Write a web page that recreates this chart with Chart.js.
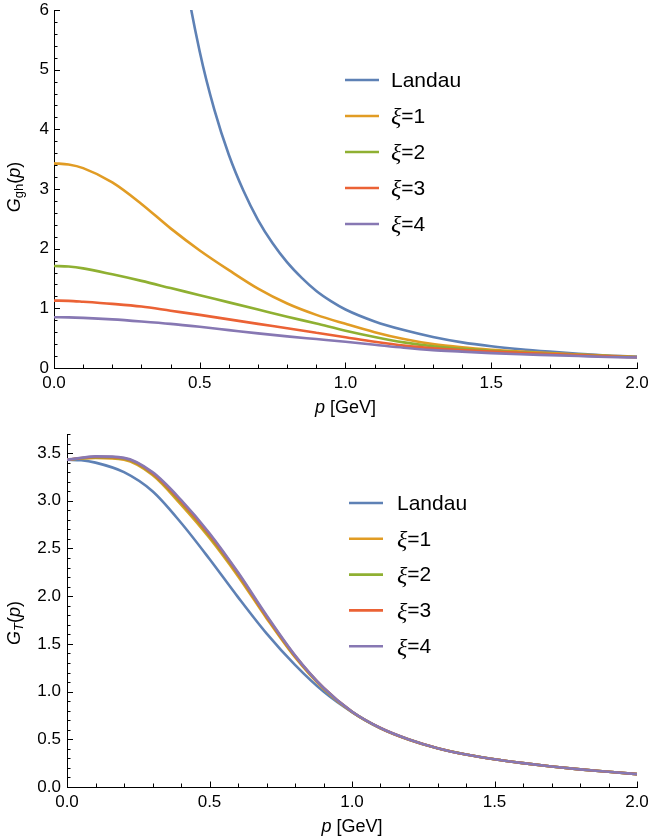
<!DOCTYPE html>
<html>
<head>
<meta charset="utf-8">
<script src="https://cdn.jsdelivr.net/npm/chart.js@4"></script>
<style>
  html, body { margin: 0; padding: 0; background: #fff; }
  canvas { display: block; }
</style>
</head>
<body>
<canvas id="ghChart" width="648" height="420"></canvas>
<canvas id="tChart" width="648" height="417"></canvas>
<script>
// series names + Mathematica default colours
const seriesLabels = ['Landau', 'ξ=1', 'ξ=2', 'ξ=3', 'ξ=4'];
const seriesColors = ['#5e81b5', '#e19c24', '#8fb032', '#eb6235', '#8778b3'];

// momentum grid (GeV)
const pGrid = [0, 0.05, 0.1, 0.2, 0.3, 0.4, 0.5, 0.6, 0.7, 0.8, 0.9, 1.0,
               1.1, 1.2, 1.3, 1.4, 1.5, 1.6, 1.7, 1.8, 1.9, 2.0];

// ghost propagator G_gh(p) -- Landau diverges at p -> 0, only plotted from 0.44
const pLandauGh = [0.44, 0.45, 0.5, 0.55, 0.6, 0.65, 0.7, 0.75, 0.8, 0.85, 0.9, 0.95, 1.0,
                   1.1, 1.2, 1.3, 1.4, 1.5, 1.6, 1.7, 1.8, 1.9, 2.0];
const ghLandau = [7.0, 6.6, 5.3, 4.33, 3.57, 2.97, 2.48, 2.09, 1.77, 1.51, 1.29, 1.12, 0.98,
                  0.78, 0.635, 0.52, 0.43, 0.365, 0.315, 0.275, 0.24, 0.21, 0.19];
const ghXi1 = [3.43, 3.41, 3.35, 3.11, 2.75, 2.34, 1.97, 1.64, 1.33, 1.08, 0.89, 0.74,
               0.60, 0.485, 0.40, 0.345, 0.305, 0.275, 0.25, 0.225, 0.205, 0.185];
const ghXi2 = [1.71, 1.70, 1.67, 1.57, 1.46, 1.34, 1.22, 1.10, 0.98, 0.86, 0.745, 0.625,
               0.52, 0.43, 0.365, 0.32, 0.29, 0.265, 0.24, 0.22, 0.20, 0.18];
const ghXi3 = [1.13, 1.125, 1.11, 1.075, 1.03, 0.96, 0.89, 0.815, 0.74, 0.665, 0.59, 0.515,
               0.44, 0.375, 0.33, 0.30, 0.275, 0.255, 0.235, 0.215, 0.195, 0.18];
const ghXi4 = [0.85, 0.848, 0.84, 0.815, 0.78, 0.74, 0.69, 0.635, 0.58, 0.53, 0.485, 0.44,
               0.39, 0.34, 0.30, 0.275, 0.25, 0.23, 0.215, 0.20, 0.185, 0.175];

// transverse gluon propagator G_T(p)
const tLandau = [3.43, 3.425, 3.40, 3.30, 3.10, 2.77, 2.39, 1.99, 1.61, 1.28, 1.00, 0.785,
                 0.615, 0.495, 0.405, 0.34, 0.29, 0.25, 0.215, 0.185, 0.16, 0.135];
const tXi1 = [3.43, 3.443, 3.45, 3.43, 3.27, 2.96, 2.61, 2.21, 1.77, 1.36, 1.03, 0.787,
              0.616, 0.496, 0.406, 0.34, 0.29, 0.25, 0.215, 0.185, 0.16, 0.135];
const tXi2 = [3.43, 3.446, 3.455, 3.44, 3.28, 2.98, 2.63, 2.23, 1.785, 1.37, 1.035, 0.788,
              0.617, 0.497, 0.406, 0.34, 0.29, 0.25, 0.215, 0.185, 0.16, 0.135];
const tXi3 = [3.43, 3.448, 3.46, 3.445, 3.29, 2.995, 2.645, 2.24, 1.79, 1.375, 1.04, 0.789,
              0.618, 0.497, 0.407, 0.34, 0.29, 0.25, 0.215, 0.185, 0.16, 0.135];
const tXi4 = [3.43, 3.45, 3.465, 3.45, 3.30, 3.01, 2.66, 2.25, 1.80, 1.38, 1.04, 0.79,
              0.618, 0.498, 0.407, 0.34, 0.29, 0.25, 0.215, 0.185, 0.16, 0.135];

// tick labels
const pTicks = [0, 0.5, 1.0, 1.5, 2.0];
const ghTicks = [0, 1, 2, 3, 4, 5, 6];
const tTicks = [0, 0.5, 1.0, 1.5, 2.0, 2.5, 3.0, 3.5];

const SANS = '"Liberation Sans", Arial, Helvetica, sans-serif';
const SERIF = '"Liberation Serif", "Times New Roman", serif';

const toPoints = (xs, ys) => xs.map((x, i) => ({ x, y: ys[i] }));

// draw a run of differently styled text pieces starting at x (left aligned)
function drawRuns(ctx, runs, x, y) {
  runs.forEach(r => {
    ctx.font = r.font;
    ctx.fillText(r.text, x, y + (r.dy || 0));
    x += ctx.measureText(r.text).width;
  });
}
function runsWidth(ctx, runs) {
  return runs.reduce((w, r) => { ctx.font = r.font; return w + ctx.measureText(r.text).width; }, 0);
}

// Mathematica-style inward ticks, axis titles and inset legend
const decorPlugin = {
  id: 'decor',
  afterDraw(chart, args, opts) {
    const { ctx, chartArea: a, scales: { x, y } } = chart;
    ctx.save();
    ctx.strokeStyle = '#000';
    ctx.lineWidth = 1;
    ctx.beginPath();
    const eps = 1e-6;
    for (let v = x.min; v <= x.max + eps; v += opts.xMinor) {
      const major = Math.abs(v / opts.xMajor - Math.round(v / opts.xMajor)) < 1e-3;
      const px = Math.round(x.getPixelForValue(v)) + 0.5;
      ctx.moveTo(px, a.bottom);
      ctx.lineTo(px, a.bottom - (major ? 5.5 : 3.5));
    }
    for (let v = y.min; v <= y.max + eps; v += opts.yMinor) {
      const major = Math.abs(v / opts.yMajor - Math.round(v / opts.yMajor)) < 1e-3;
      const py = Math.round(y.getPixelForValue(v)) + 0.5;
      ctx.moveTo(a.left, py);
      ctx.lineTo(a.left + (major ? 6 : 3.5), py);
    }
    ctx.stroke();

    ctx.fillStyle = '#000';
    ctx.textBaseline = 'middle';

    // x title: p [GeV]
    const xRuns = [
      { text: 'p', font: `italic 18px ${SANS}` },
      { text: ' [GeV]', font: `18px ${SANS}` }
    ];
    const xw = runsWidth(ctx, xRuns);
    drawRuns(ctx, xRuns, (a.left + a.right) / 2 - xw / 2, opts.xTitleY);

    // y title, rotated
    const yw = runsWidth(ctx, opts.yRuns);
    ctx.save();
    ctx.translate(opts.yTitleX, opts.yTitleY);
    ctx.rotate(-Math.PI / 2);
    drawRuns(ctx, opts.yRuns, -yw / 2, 0);
    ctx.restore();

    // legend
    chart.data.datasets.forEach((ds, i) => {
      const ly = opts.legY + i * opts.legStep;
      ctx.strokeStyle = ds.borderColor;
      ctx.lineWidth = 2.6;
      ctx.beginPath();
      ctx.moveTo(opts.legX0, ly);
      ctx.lineTo(opts.legX1, ly);
      ctx.stroke();
      const runs = ds.label.startsWith('ξ')
        ? [{ text: 'ξ', font: `italic 24px ${SERIF}`, dy: 1 }, { text: ds.label.slice(1), font: `21px ${SANS}` }]
        : [{ text: ds.label, font: `21px ${SANS}` }];
      drawRuns(ctx, runs, opts.legTextX, ly + 1);
    });
    ctx.restore();
  }
};

function makeChart(id, sets, cfg) {
  const datasets = sets.map((pts, i) => ({
    label: seriesLabels[i],
    data: pts,
    borderColor: seriesColors[i],
    borderWidth: 2.6,
    pointRadius: 0,
    fill: false,
    cubicInterpolationMode: 'monotone',
    clip: 0,
    order: sets.length - i
  }));

  return new Chart(document.getElementById(id), {
    type: 'line',
    data: { datasets },
    options: {
      responsive: false,
      animation: false,
      events: [],
      layout: { padding: { left: 0, right: 11, top: cfg.top, bottom: 0 } },
      plugins: {
        legend: { display: false },
        tooltip: { enabled: false },
        decor: cfg.decor
      },
      scales: {
        x: {
          type: 'linear', min: 0, max: 2,
          grid: { display: false, drawTicks: false },
          border: { display: true, color: '#000', width: 1 },
          afterBuildTicks: s => { s.ticks = pTicks.map(value => ({ value })); },
          afterFit: s => { s.height = cfg.xHeight; s.paddingLeft = 0; s.paddingRight = 0; },
          ticks: {
            color: '#000', padding: 5, maxRotation: 0,
            font: { family: SANS, size: 17 },
            callback: v => v.toFixed(1)
          }
        },
        y: {
          type: 'linear', min: 0, max: cfg.yMax,
          grid: { display: false, drawTicks: false },
          border: { display: true, color: '#000', width: 1 },
          afterBuildTicks: s => { s.ticks = cfg.yTicks.map(value => ({ value })); },
          afterFit: s => { s.width = cfg.yWidth; s.paddingTop = 0; s.paddingBottom = 0; },
          ticks: {
            color: '#000', padding: cfg.yPad,
            font: { family: SANS, size: 17 },
            callback: v => cfg.yFmt(v)
          }
        }
      }
    },
    plugins: [decorPlugin]
  });
}

document.addEventListener('DOMContentLoaded', () => {
  makeChart('ghChart', [
    toPoints(pLandauGh, ghLandau),
    toPoints(pGrid, ghXi1),
    toPoints(pGrid, ghXi2),
    toPoints(pGrid, ghXi3),
    toPoints(pGrid, ghXi4)
  ], {
    top: 10, xHeight: 52, yWidth: 54, yPad: 5, yMax: 6,
    yTicks: ghTicks, yFmt: v => String(v),
    decor: {
      xMinor: 0.1, xMajor: 0.5, yMinor: 0.2, yMajor: 1,
      xTitleY: 408, yTitleX: 15, yTitleY: 187,
      yRuns: [
        { text: 'G', font: `italic 18px ${SANS}` },
        { text: 'gh', font: `13px ${SANS}`, dy: 4 },
        { text: '(', font: `18px ${SANS}` },
        { text: 'p', font: `italic 18px ${SANS}` },
        { text: ')', font: `18px ${SANS}` }
      ],
      legX0: 345, legX1: 379, legTextX: 391, legY: 80, legStep: 36
    }
  });

  makeChart('tChart', [
    toPoints(pGrid, tLandau),
    toPoints(pGrid, tXi1),
    toPoints(pGrid, tXi2),
    toPoints(pGrid, tXi3),
    toPoints(pGrid, tXi4)
  ], {
    top: 14, xHeight: 50, yWidth: 67, yPad: 6, yMax: 3.7,
    yTicks: tTicks, yFmt: v => v.toFixed(1),
    decor: {
      xMinor: 0.1, xMajor: 0.5, yMinor: 0.1, yMajor: 0.5,
      xTitleY: 407, yTitleX: 15, yTitleY: 203,
      yRuns: [
        { text: 'G', font: `italic 18px ${SANS}` },
        { text: 'T', font: `italic 13px ${SANS}`, dy: 4 },
        { text: '(', font: `18px ${SANS}` },
        { text: 'p', font: `italic 18px ${SANS}` },
        { text: ')', font: `18px ${SANS}` }
      ],
      legX0: 349, legX1: 383, legTextX: 397, legY: 83, legStep: 35.8
    }
  });
});
</script>
</body>
</html>
